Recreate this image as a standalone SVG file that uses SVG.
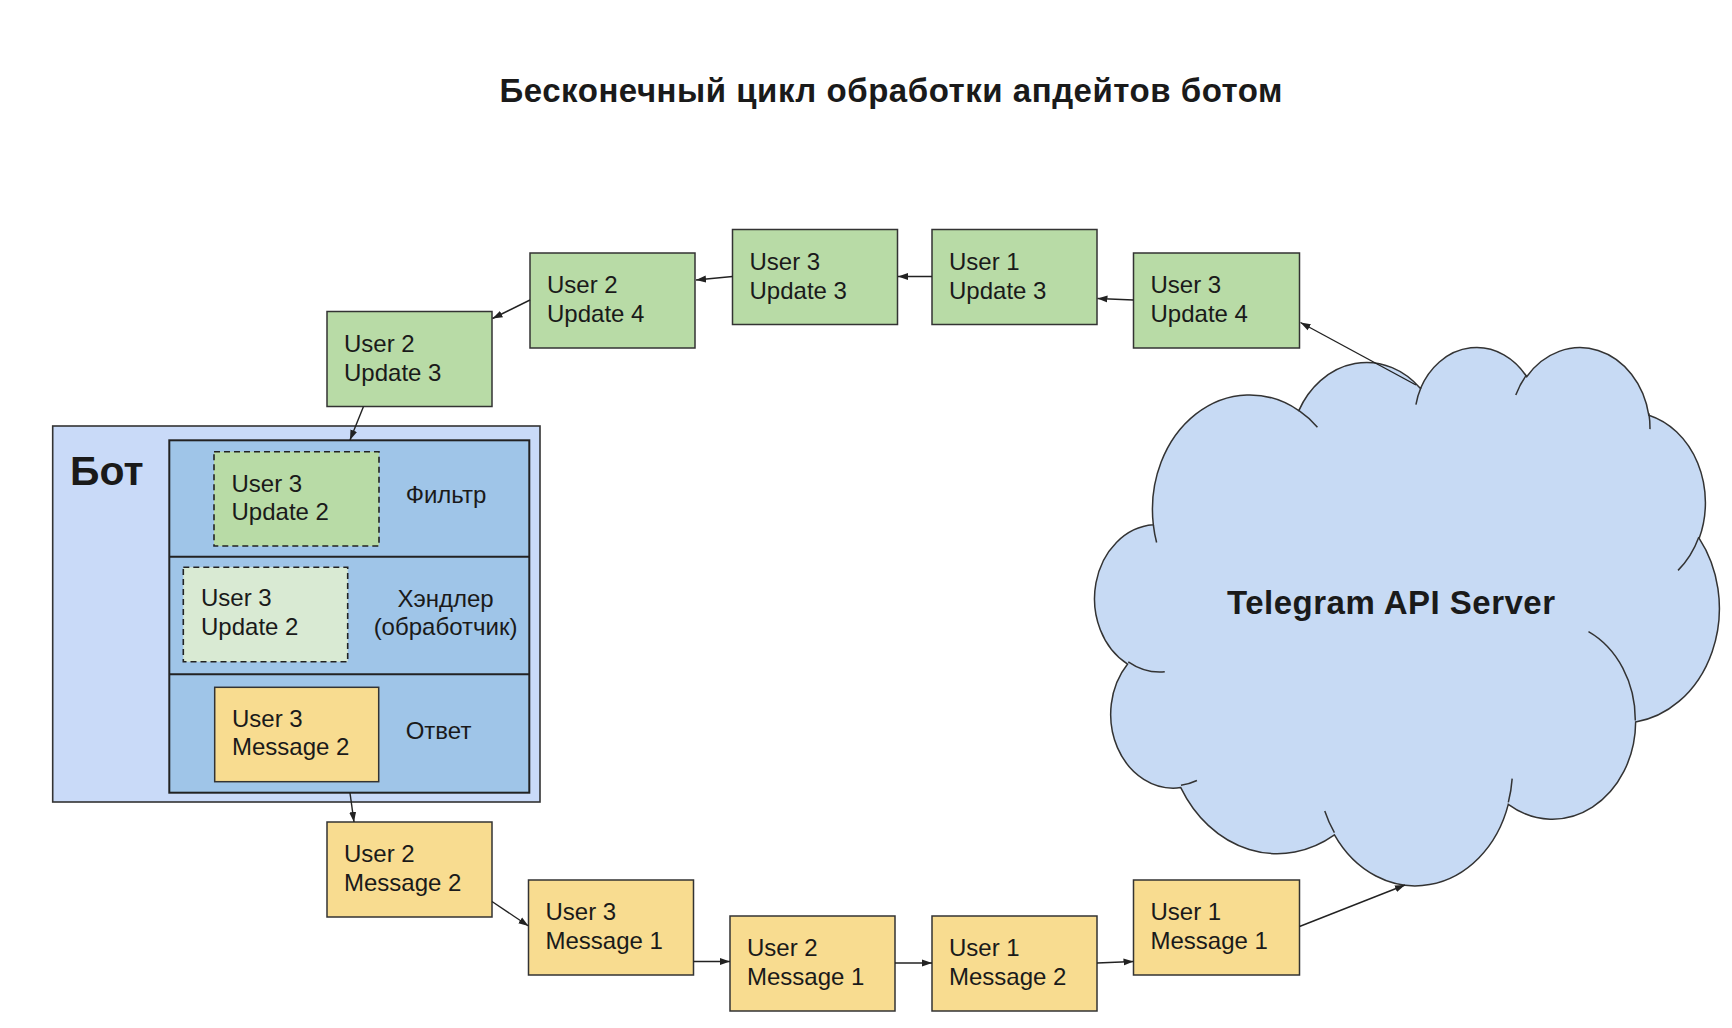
<svg xmlns="http://www.w3.org/2000/svg" width="1732" height="1028" viewBox="0 0 1732 1028">
<defs>
<style>
.t{font-family:"Liberation Sans",Arial,"DejaVu Sans",sans-serif;font-size:24px;fill:#1a1a1a}
.b{font-weight:bold}
.h1{font-size:33px}
.h2{font-size:41px}
.g{fill:#b8dba6;stroke:#333;stroke-width:1.5}
.y{fill:#f8dc90;stroke:#333;stroke-width:1.5}
.c{fill:none;stroke:#222;stroke-width:1.4;marker-end:url(#ah)}
.cl{vector-effect:non-scaling-stroke;stroke:#333;stroke-width:1.5}
</style>
<marker id="ah" viewBox="0 0 10 10" refX="10" refY="5" markerWidth="10" markerHeight="10" markerUnits="userSpaceOnUse" orient="auto">
<path d="M0,1.5 L10,5 L0,8.5 z" fill="#222"/>
</marker>
</defs>
<rect width="1732" height="1028" fill="#ffffff"/>

<text id="title" class="t b h1" x="891" y="102" text-anchor="middle" textLength="783">Бесконечный цикл обработки апдейтов ботом</text>

<g id="cloud">
<g transform="translate(1097.2,345.8) scale(0.014395,0.012456)">
<path class="cl" fill="#c7daf4" d="M3900 14370 A6753 9190 0 0 1 14005.4 5202.6 A5333 7267 0 0 1 22457.2 3431.3 A4365 5945 0 0 1 29834.8 2480.6 A4857 6595 0 0 1 38320.1 5575.6 A5333 7273 0 0 1 41820.4 15459.1 A6775 9220 0 0 1 37405.4 30200.9 A5785 7867 0 0 1 28556.9 36811 A6752 9215 0 0 1 16482.3 39264.4 A7720 10543 0 0 1 5805.1 35468.5 A4360 5918 0 0 1 2112.5 25548.6 A4345 5945 0 0 1 3900 14370 Z"/>
<path class="cl" fill="none" d="M4693 26177 A4345 5945 0 0 1 2159 25380 M6928 34899 A4360 5918 0 0 1 5819 35281 M16478 39090 A6752 9215 0 0 1 15809 37348 M28827 34751 A6752 9215 0 0 1 28560 36660 M34129 22954 A5785 7867 0 0 1 37380 30090 M41798 15354 A5333 7273 0 0 1 40350 18030 M38324 5426 A4857 6595 0 0 1 38400 6690 M29078 3952 A4857 6595 0 0 1 29820 2340 M22141 4720 A4365 5945 0 0 1 22500 3330 M14000 5192 A6753 9190 0 0 1 15300 6541 M4127 15789 A6753 9190 0 0 1 3900 14370"/>
</g>
<text class="t b h1" x="1391" y="614" text-anchor="middle" textLength="328">Telegram API Server</text>
</g>

<g id="bot">
<rect x="52.7" y="426" width="487.3" height="376" fill="#c9daf8" stroke="#333" stroke-width="1.6"/>
<text class="t b h2" x="70" y="485">Бот</text>
<rect x="169.3" y="440.3" width="360" height="352.4" fill="#9fc5e8" stroke="#222" stroke-width="2"/>
<line x1="169.3" y1="556.7" x2="529.3" y2="556.7" stroke="#222" stroke-width="2"/>
<line x1="169.3" y1="674.3" x2="529.3" y2="674.3" stroke="#222" stroke-width="2"/>
</g>

<g id="filter">
<rect x="214" y="451.7" width="165" height="94.3" fill="#b8dba6" stroke="#222" stroke-width="1.6" stroke-dasharray="6 4"/>
<text class="t" x="231.5" y="491.5">User 3</text>
<text class="t" x="231.5" y="520">Update 2</text>
<text class="t" x="405.7" y="503">Фильтр</text>
</g>

<g id="handler">
<rect x="183.3" y="567.3" width="164.4" height="94.4" fill="#d9ead3" stroke="#222" stroke-width="1.6" stroke-dasharray="6 4"/>
<text class="t" x="201" y="606">User 3</text>
<text class="t" x="201" y="635">Update 2</text>
<text class="t" x="445.5" y="607" text-anchor="middle">Хэндлер</text>
<text class="t" x="445.5" y="635" text-anchor="middle">(обработчик)</text>
</g>

<g id="answer">
<rect x="214.7" y="687.3" width="164" height="94.4" class="y"/>
<text class="t" x="232" y="727">User 3</text>
<text class="t" x="232" y="755">Message 2</text>
<text class="t" x="405.7" y="739">Ответ</text>
</g>

<g id="u2u3"><rect class="g" x="327" y="311.5" width="165" height="95"/><text class="t" x="344" y="351.5">User 2</text><text class="t" x="344" y="380.5">Update 3</text></g>
<g id="u2u4"><rect class="g" x="530" y="253" width="165" height="95"/><text class="t" x="547" y="293">User 2</text><text class="t" x="547" y="322">Update 4</text></g>
<g id="u3u3"><rect class="g" x="732.5" y="229.5" width="165" height="95"/><text class="t" x="749.5" y="269.5">User 3</text><text class="t" x="749.5" y="298.5">Update 3</text></g>
<g id="u1u3"><rect class="g" x="932" y="229.5" width="165" height="95"/><text class="t" x="949" y="269.5">User 1</text><text class="t" x="949" y="298.5">Update 3</text></g>
<g id="u3u4"><rect class="g" x="1133.5" y="253" width="166" height="95"/><text class="t" x="1150.5" y="293">User 3</text><text class="t" x="1150.5" y="322">Update 4</text></g>

<g id="u2m2"><rect class="y" x="327" y="822" width="165" height="95"/><text class="t" x="344" y="861.5">User 2</text><text class="t" x="344" y="890.5">Message 2</text></g>
<g id="u3m1"><rect class="y" x="528.5" y="880" width="165" height="95"/><text class="t" x="545.5" y="919.5">User 3</text><text class="t" x="545.5" y="948.5">Message 1</text></g>
<g id="u2m1"><rect class="y" x="730" y="916" width="165" height="95"/><text class="t" x="747" y="955.5">User 2</text><text class="t" x="747" y="984.5">Message 1</text></g>
<g id="u1m2"><rect class="y" x="932" y="916" width="165" height="95"/><text class="t" x="949" y="955.5">User 1</text><text class="t" x="949" y="984.5">Message 2</text></g>
<g id="u1m1"><rect class="y" x="1133.5" y="880" width="166" height="95"/><text class="t" x="1150.5" y="919.5">User 1</text><text class="t" x="1150.5" y="948.5">Message 1</text></g>

<g id="connectors">
<line class="c" x1="1416" y1="385" x2="1300.5" y2="322.5"/>
<line class="c" x1="1133.5" y1="300" x2="1097.5" y2="298.5"/>
<line class="c" x1="932" y1="276.5" x2="898" y2="276.5"/>
<line class="c" x1="732.5" y1="276.5" x2="696" y2="280"/>
<line class="c" x1="530" y1="300" x2="492.5" y2="318.5"/>
<line class="c" x1="363.5" y1="406.5" x2="350" y2="440"/>
<line class="c" x1="350" y1="793" x2="354" y2="822"/>
<line class="c" x1="492" y1="901.5" x2="528.5" y2="926"/>
<line class="c" x1="693.5" y1="961.5" x2="730" y2="961.5"/>
<line class="c" x1="895" y1="963" x2="932" y2="963"/>
<line class="c" x1="1097" y1="963" x2="1133.5" y2="961.5"/>
<line class="c" x1="1299.5" y1="926.5" x2="1405" y2="885"/>
</g>
</svg>
